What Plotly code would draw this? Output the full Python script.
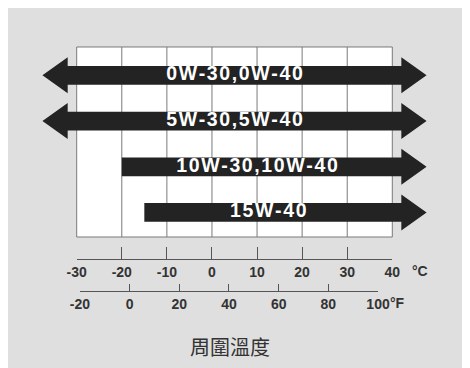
"""
エンジンオイル粘度と周囲温度の対応図 (Plotly)。
"""

import plotly.graph_objects as go

# データ
grades = ["0W-30,0W-40", "5W-30,5W-40", "10W-30,10W-40", "15W-40"]
low_c = [-30, -30, -20, -15]          # 使用可能な下限温度 (°C)
high_c = [40, 40, 40, 40]             # 上限 (°C) — 右側は矢印で開放
open_low = [True, True, False, False]  # 下限側も矢印で開放か
celsius_ticks = [-30, -20, -10, 0, 10, 20, 30, 40]
fahrenheit_ticks = [-20, 0, 20, 40, 60, 80, 100]

BG = "#dfdfdf"
ARROW = "#232323"
GRID = "#7a7a7a"
TICK = "#555555"
LABEL = "#333333"

SHAFT = 0.205   # 軸の半分の太さ (行単位)
HEAD = 0.394    # 矢じりの半分の高さ
HEAD_GAP = 2.0  # 枠外の矢じり付け根までの距離 (°C)
HEAD_LEN = 5.6  # 矢じりの長さ (°C)


def arrow_xy(low, high, is_open, row):
    br = high + HEAD_GAP
    tr = br + HEAD_LEN
    right = [(br, row - SHAFT), (br, row - HEAD), (tr, row), (br, row + HEAD), (br, row + SHAFT)]
    if is_open:
        bl = low - HEAD_GAP
        tl = bl - HEAD_LEN
        left = [(bl, row + SHAFT), (bl, row + HEAD), (tl, row), (bl, row - HEAD), (bl, row - SHAFT)]
    else:
        left = [(low, row + SHAFT), (low, row - SHAFT)]
    pts = right + left + [right[0]]
    return [p[0] for p in pts], [p[1] for p in pts]


def spaced(s):
    return "\u200a".join(s)


fig = go.Figure()

# 枠とグリッド
g_top, g_bot = -0.619, 3.536
c0, c1 = celsius_ticks[0], celsius_ticks[-1]
fig.add_trace(go.Scatter(
    x=[c0, c1, c1, c0, c0], y=[g_top, g_top, g_bot, g_bot, g_top],
    fill="toself", fillcolor="white", mode="lines",
    line=dict(color=GRID, width=1), hoverinfo="skip", showlegend=False,
))
gx, gy = [], []
for c in celsius_ticks[1:-1]:
    gx += [c, c, None]
    gy += [g_top, g_bot, None]
fig.add_trace(go.Scatter(
    x=gx, y=gy, mode="lines", line=dict(color=GRID, width=1),
    hoverinfo="skip", showlegend=False,
))

# 矢印
for i, name in enumerate(grades):
    ax, ay = arrow_xy(low_c[i], high_c[i], open_low[i], i)
    fig.add_trace(go.Scatter(
        x=ax, y=ay, fill="toself", fillcolor=ARROW, mode="lines",
        line=dict(width=0, color=ARROW), name=name, showlegend=False,
        hoverinfo="skip",
    ))
fig.add_trace(go.Scatter(
    x=[(l + h) / 2 for l, h in zip(low_c, high_c)],
    y=list(range(len(grades))),
    mode="text", text=[spaced(g) for g in grades],
    textfont=dict(family="Liberation Sans", size=19.5, color="white", weight="bold"),
    hoverinfo="skip", showlegend=False,
))

# 目盛り用のダミー
fig.add_trace(go.Scatter(x=[None], y=[None], xaxis="x2", yaxis="y", showlegend=False, hoverinfo="skip"))
fig.add_trace(go.Scatter(x=[None], y=[None], xaxis="x3", yaxis="y", showlegend=False, hoverinfo="skip"))

tickfont = dict(family="Liberation Sans", size=14, color=LABEL, weight="bold")

fig.update_layout(
    width=462, height=360,
    margin=dict(l=0, r=0, t=0, b=0, autoexpand=False),
    paper_bgcolor=BG,
    plot_bgcolor="rgba(0,0,0,0)",
    xaxis=dict(range=[-45.237, 57.23], visible=False, automargin=False),
    yaxis=dict(range=[6.4006, -1.4717], visible=False, automargin=False),
    xaxis2=dict(
        domain=[0.1487, 0.8318], range=[c0, c1], anchor="free", position=0.3028,
        side="bottom", showline=True, linecolor=TICK, linewidth=1,
        ticks="inside", ticklen=12, tickcolor=TICK, tickwidth=1,
        tickvals=celsius_ticks, ticktext=[str(v) for v in celsius_ticks],
        showgrid=False, zeroline=False, tickfont=tickfont, automargin=False,
    ),
    xaxis3=dict(
        domain=[0.1558, 0.8009], range=[fahrenheit_ticks[0], fahrenheit_ticks[-1]],
        anchor="free", position=0.2147,
        side="bottom", showline=True, linecolor=TICK, linewidth=1,
        ticks="inside", ticklen=7, tickcolor=TICK, tickwidth=1,
        tickvals=fahrenheit_ticks, ticktext=[str(v) for v in fahrenheit_ticks],
        showgrid=False, zeroline=False, tickfont=tickfont, automargin=False,
    ),
    annotations=[
        dict(text="°C", xref="x2", x=c1, xshift=28, yref="y", y=4.28,
             showarrow=False, font=tickfont),
        dict(text="°F", xref="x3", x=fahrenheit_ticks[-1], xshift=19, yref="y", y=4.986,
             showarrow=False, font=tickfont),
        dict(text="周圍溫度", xref="paper", x=0.4805, yref="paper", y=0.0611,
             xanchor="center", yanchor="middle", showarrow=False,
             font=dict(family="Noto Sans CJK TC", size=20, color=LABEL)),
    ],
)

fig.write_html("out.html")
